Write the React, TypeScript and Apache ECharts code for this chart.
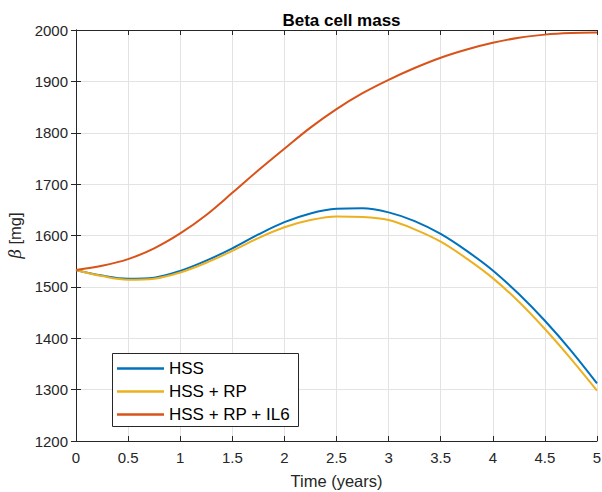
import React, { useEffect, useRef } from "react";
import * as echarts from "echarts";

const timeYears = [0, 0.25, 0.5, 0.75, 1, 1.25, 1.5, 1.75, 2, 2.25, 2.5, 2.75, 3, 3.25, 3.5, 3.75, 4, 4.25, 4.5, 4.75, 5];
const hss = [1533, 1522, 1516, 1518, 1531, 1551, 1575, 1602, 1626, 1643, 1652, 1653, 1645, 1628, 1603, 1570, 1532, 1486, 1434, 1376, 1312];
const hssRp = [1533, 1521, 1514, 1516, 1528, 1547, 1570, 1595, 1616, 1630, 1637, 1636, 1630, 1612, 1588, 1555, 1517, 1471, 1418, 1360, 1298];
const hssRpIl6 = [1533, 1541, 1554, 1575, 1604, 1640, 1683, 1727, 1769, 1810, 1846, 1877, 1903, 1926, 1946, 1962, 1975, 1985, 1991, 1994, 1995];
const seriesNames = ["HSS", "HSS + RP", "HSS + RP + IL6"];
const seriesColors = ["#0072BD", "#EDB120", "#D95319"];

const FONT = "'Liberation Sans', Arial, Helvetica, sans-serif";
const TXT = "#262626";

export default function App() {
  const ref = useRef<HTMLDivElement>(null);
  useEffect(() => {
    if (!ref.current) return;
    const chart = echarts.init(ref.current, undefined, { renderer: "svg" });
    const pair = (ys: number[]) => timeYears.map((t, i) => [t, ys[i]]);
    const dataSets = [hss, hssRp, hssRpIl6];
    const axisLine = { show: true, lineStyle: { color: TXT, width: 1 } };
    chart.setOption({
      animation: false,
      backgroundColor: "#ffffff",
      textStyle: { fontFamily: FONT },
      title: {
        text: "Beta cell mass",
        left: 336.5,
        top: 7,
        textAlign: "center",
        textStyle: { fontFamily: FONT, fontSize: 17, fontWeight: "bold", color: "#000" },
      },
      grid: { left: 76, right: 5, top: 30, bottom: 51, containLabel: false, outerBoundsMode: "none" },
      xAxis: [
        {
          type: "value",
          min: 0,
          max: 5,
          interval: 0.5,
          name: "Time (years)",
          nameLocation: "middle",
          nameGap: 31,
          nameTextStyle: { fontFamily: FONT, fontSize: 16.5, color: TXT },
          axisLine,
          axisTick: { show: true, inside: true, length: 5, lineStyle: { color: TXT } },
          axisLabel: { fontFamily: FONT, fontSize: 15, color: TXT, margin: 9, formatter: (v: number) => String(v) },
          splitLine: { show: true, lineStyle: { color: "#e3e3e3", width: 1 } },
        },
        {
          type: "value",
          position: "top",
          min: 0,
          max: 5,
          interval: 0.5,
          axisLine,
          axisTick: { show: true, inside: true, length: 5, lineStyle: { color: TXT } },
          axisLabel: { show: false },
          splitLine: { show: false },
        },
      ],
      yAxis: [
        {
          type: "value",
          min: 1200,
          max: 2000,
          interval: 100,
          name: "{b|β} [mg]",
          nameLocation: "middle",
          nameRotate: 90,
          nameGap: 50,
          nameTextStyle: {
            fontFamily: FONT,
            fontSize: 16.5,
            color: TXT,
            rich: { b: { fontFamily: "'DejaVu Serif', serif", fontStyle: "italic", fontSize: 16.5, color: TXT } },
          },
          axisLine,
          axisTick: { show: true, inside: true, length: 5, lineStyle: { color: TXT } },
          axisLabel: { fontFamily: FONT, fontSize: 15, color: TXT, margin: 8, formatter: (v: number) => String(v) },
          splitLine: { show: true, lineStyle: { color: "#e3e3e3", width: 1 } },
        },
        {
          type: "value",
          position: "right",
          min: 1200,
          max: 2000,
          interval: 100,
          axisLine,
          axisTick: { show: true, inside: true, length: 5, lineStyle: { color: TXT } },
          axisLabel: { show: false },
          splitLine: { show: false },
        },
      ],
      graphic: [
        {
          type: "rect",
          z: 20,
          shape: { x: 112.5, y: 353.5, width: 186, height: 73 },
          style: { fill: "#ffffff", stroke: TXT, lineWidth: 1 },
        },
      ],
      legend: {
        z: 30,
        orient: "vertical",
        left: 112,
        top: 353,
        padding: [7, 5, 5, 5],
        itemGap: 6,
        itemWidth: 47,
        itemHeight: 2.5,
        icon: "rect",
        textStyle: { fontFamily: FONT, fontSize: 17, color: "#000", lineHeight: 16.5, padding: [0, 0, 0, 0] },
        data: seriesNames.map((n) => ({ name: n, icon: "rect" })),
      },
      series: seriesNames.map((n, i) => ({
        name: n,
        type: "line",
        xAxisIndex: 0,
        yAxisIndex: 0,
        data: pair(dataSets[i]),
        smooth: 0.35,
        showSymbol: false,
        symbol: "none",
        lineStyle: { color: seriesColors[i], width: 2 },
        itemStyle: { color: seriesColors[i] },
        z: 2 + i,
      })),
    });
    return () => chart.dispose();
  }, []);
  return <div ref={ref} style={{ position: "fixed", left: 0, top: 0, width: 602, height: 492 }} />;
}
